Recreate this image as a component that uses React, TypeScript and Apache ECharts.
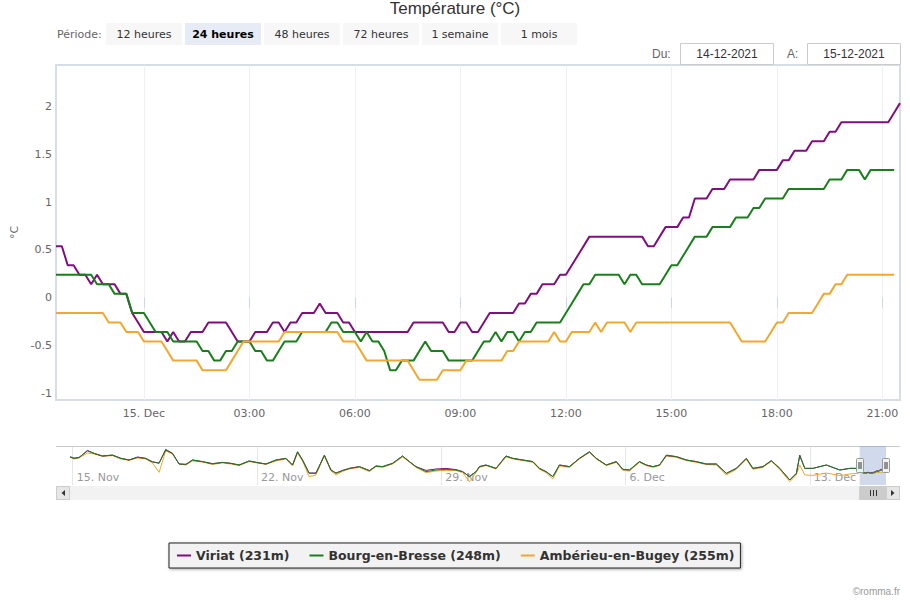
import React, { useEffect, useRef } from "react";
import * as echarts from "echarts";

// ---- Main window: 14-12-2021 21:30 -> 15-12-2021 21:30, 10-minute readings
const START_HOUR = -2.5; // hours relative to 15-12-2021 00:00
const STEP_HOURS = 1 / 6;

const viriat = [
  0.54, 0.54, 0.34, 0.34, 0.24, 0.24, 0.14, 0.24, 0.14, 0.14,
  0.14, 0.04, 0.04, -0.16, -0.26, -0.36, -0.36, -0.36, -0.36, -0.46,
  -0.36, -0.46, -0.46, -0.36, -0.36, -0.36, -0.26, -0.26, -0.26, -0.26,
  -0.36, -0.46, -0.46, -0.46, -0.36, -0.36, -0.36, -0.26, -0.26, -0.36,
  -0.26, -0.26, -0.16, -0.16, -0.16, -0.06, -0.16, -0.16, -0.16, -0.26,
  -0.26, -0.36, -0.36, -0.36, -0.36, -0.36, -0.36, -0.36, -0.36, -0.36,
  -0.36, -0.26, -0.26, -0.26, -0.26, -0.26, -0.26, -0.36, -0.36, -0.26,
  -0.26, -0.36, -0.36, -0.26, -0.16, -0.16, -0.16, -0.16, -0.16, -0.06,
  -0.06, 0.04, 0.04, 0.14, 0.14, 0.14, 0.24, 0.24, 0.34, 0.44,
  0.54, 0.64, 0.64, 0.64, 0.64, 0.64, 0.64, 0.64, 0.64, 0.64,
  0.64, 0.54, 0.54, 0.64, 0.74, 0.74, 0.74, 0.84, 0.84, 1.04,
  1.04, 1.04, 1.14, 1.14, 1.14, 1.24, 1.24, 1.24, 1.24, 1.24,
  1.34, 1.34, 1.34, 1.34, 1.44, 1.44, 1.54, 1.54, 1.54, 1.64,
  1.64, 1.64, 1.74, 1.74, 1.84, 1.84, 1.84, 1.84, 1.84, 1.84,
  1.84, 1.84, 1.84, 1.94, 2.04,
];

const bourg = [
  0.24, 0.24, 0.24, 0.24, 0.24, 0.24, 0.24, 0.14, 0.14, 0.14,
  0.04, 0.04, 0.04, -0.16, -0.16, -0.16, -0.26, -0.36, -0.36, -0.36,
  -0.46, -0.46, -0.46, -0.46, -0.46, -0.56, -0.56, -0.66, -0.66, -0.56,
  -0.56, -0.46, -0.46, -0.46, -0.56, -0.56, -0.66, -0.66, -0.56, -0.46,
  -0.46, -0.46, -0.36, -0.36, -0.36, -0.36, -0.36, -0.26, -0.26, -0.36,
  -0.36, -0.36, -0.46, -0.36, -0.46, -0.46, -0.56, -0.76, -0.76, -0.66,
  -0.66, -0.66, -0.56, -0.46, -0.56, -0.56, -0.56, -0.66, -0.66, -0.66,
  -0.66, -0.66, -0.56, -0.46, -0.46, -0.36, -0.46, -0.36, -0.36, -0.46,
  -0.36, -0.36, -0.26, -0.26, -0.26, -0.26, -0.26, -0.16, -0.06, 0.04,
  0.14, 0.14, 0.24, 0.24, 0.24, 0.24, 0.24, 0.14, 0.24, 0.24,
  0.14, 0.14, 0.14, 0.14, 0.24, 0.34, 0.34, 0.44, 0.54, 0.64,
  0.64, 0.64, 0.74, 0.74, 0.74, 0.74, 0.84, 0.84, 0.84, 0.94,
  0.94, 1.04, 1.04, 1.04, 1.04, 1.14, 1.14, 1.14, 1.14, 1.14,
  1.14, 1.14, 1.24, 1.24, 1.24, 1.34, 1.34, 1.34, 1.24, 1.34,
  1.34, 1.34, 1.34, 1.34,
];

const amberieu = [
  -0.16, -0.16, -0.16, -0.16, -0.16, -0.16, -0.16, -0.16, -0.16, -0.26,
  -0.26, -0.26, -0.36, -0.36, -0.36, -0.46, -0.46, -0.46, -0.46, -0.56,
  -0.66, -0.66, -0.66, -0.66, -0.66, -0.76, -0.76, -0.76, -0.76, -0.76,
  -0.66, -0.56, -0.46, -0.46, -0.46, -0.46, -0.46, -0.46, -0.46, -0.36,
  -0.36, -0.36, -0.36, -0.36, -0.36, -0.36, -0.36, -0.36, -0.36, -0.46,
  -0.46, -0.46, -0.56, -0.66, -0.66, -0.66, -0.66, -0.66, -0.66, -0.66,
  -0.66, -0.76, -0.86, -0.86, -0.86, -0.86, -0.76, -0.76, -0.76, -0.76,
  -0.66, -0.66, -0.66, -0.66, -0.66, -0.66, -0.66, -0.56, -0.56, -0.46,
  -0.46, -0.46, -0.46, -0.46, -0.46, -0.36, -0.46, -0.46, -0.36, -0.36,
  -0.36, -0.36, -0.26, -0.36, -0.26, -0.26, -0.26, -0.26, -0.36, -0.26,
  -0.26, -0.26, -0.26, -0.26, -0.26, -0.26, -0.26, -0.26, -0.26, -0.26,
  -0.26, -0.26, -0.26, -0.26, -0.26, -0.26, -0.36, -0.46, -0.46, -0.46,
  -0.46, -0.46, -0.36, -0.26, -0.26, -0.16, -0.16, -0.16, -0.16, -0.16,
  -0.06, 0.04, 0.04, 0.14, 0.14, 0.24, 0.24, 0.24, 0.24, 0.24,
  0.24, 0.24, 0.24, 0.24,
];

const xTickHours = [0, 3, 6, 9, 12, 15, 18, 21];
const yTicks = [-1, -0.5, 0, 0.5, 1, 1.5, 2];

// ---- Navigator: one month, days relative to 15-11-2021 00:00
const NAV_START_DAY = -2.5 / 24;
const WIN_START_DAY = 29 + 21.5 / 24;
const WIN_END_DAY = 30 + 21.5 / 24;

const navDays = [
  -0.10, 0.05, 0.24, 0.56, 0.81, 1.13, 1.51, 1.82, 2.14, 2.46,
  2.77, 3.03, 3.28, 3.53, 3.79, 4.04, 4.30, 4.55, 4.93, 5.31,
  5.69, 6.01, 6.32, 6.70, 7.02, 7.34, 7.72, 8.10, 8.35, 8.54,
  8.73, 8.98, 9.24, 9.56, 9.81, 10.00, 10.25, 10.51, 10.89, 11.27,
  11.52, 11.77, 12.15, 12.53, 12.79, 13.04, 13.42, 13.80, 14.18, 14.56,
  14.81, 15.07, 15.32, 15.45, 15.70, 16.08, 16.46, 16.72, 17.10, 17.48,
  17.73, 17.98, 18.24, 18.49, 18.87, 19.25, 19.63, 19.89, 20.27, 20.65,
  20.90, 21.15, 21.53, 21.79, 22.04, 22.29, 22.55, 22.93, 23.31, 23.69,
  24.07, 24.45, 24.83, 25.21, 25.59, 25.84, 26.22, 26.54, 26.86, 27.24,
  27.49, 27.62, 27.81, 28.12, 28.63, 29.14, 29.52, 29.85,
];

const navBourg = [
  7.67, 6.83, 7.33, 10.5, 9.33, 8.0, 8.5, 6.83, 6.0, 7.33,
  6.83, 5.17, 4.33, 11.33, 9.33, 4.0, 3.83, 6.0, 5.17, 4.0,
  4.83, 4.33, 3.5, 5.5, 4.67, 4.0, 6.0, 6.83, 3.5, 10.17,
  6.0, -0.67, -0.67, 8.5, 1.0, -0.67, 0.67, 1.83, 2.67, 0.67,
  3.0, 2.67, 4.33, 8.0, 5.17, 2.67, 0.17, 1.0, 1.33, 1.0,
  0.17, -2.33, 0.17, 2.67, 3.5, 1.83, 8.0, 6.83, 6.0, 5.17,
  1.83, 0.17, -2.33, 3.5, 2.67, 6.83, 10.17, 6.83, 3.5, 5.17,
  1.33, 1.0, 5.17, 3.5, 2.67, 3.5, 8.5, 7.67, 6.0, 5.17,
  4.0, 4.0, -0.67, 1.83, 6.83, 1.83, 2.67, 5.67, 1.83, -4.0,
  -0.67, 8.0, 1.83, 1.83, 3.5, 1.0, 1.83, 1.83,
];

const navViriat = [
  7.5, 6.9, 7.2, 10.8, 9.3, 8.0, 8.4, 6.9, 6.0, 7.5,
  6.8, 5.0, 4.5, 11.0, 9.3, 4.0, 3.8, 6.0, 5.2, 4.2,
  4.8, 4.3, 3.5, 5.5, 4.7, 4.0, 6.0, 6.8, 3.5, 10.0,
  6.0, -0.5, -0.5, 8.3, 1.0, -0.5, 0.8, 1.8, 2.7, 0.7,
  3.0, 2.7, 4.3, 8.0, 5.2, 2.7, 0.8, 1.5, 1.8, 1.2,
  0.2, -2.3, 0.2, 2.7, 3.5, 1.8, 8.0, 6.8, 6.0, 5.2,
  1.8, 0.2, -2.3, 3.5, 2.7, 6.8, 10.0, 6.8, 3.5, 5.2,
  1.3, 1.0, 5.2, 3.5, 2.7, 3.5, 8.2, 7.7, 6.0, 5.2,
  4.0, 4.0, -0.7, 1.8, 6.8, 1.8, 2.7, 5.7, 1.8, -4.0,
  -0.7, 8.5, 1.8, 1.8, 3.5, 1.0, 1.8, 1.8,
];

const navAmberieu = [
  7.3, 6.5, 7.0, 9.5, 9.0, 7.8, 8.2, 6.5, 5.8, 7.0,
  6.5, 4.5, -0.17, 10.5, 9.0, 4.0, 3.5, 5.5, 5.0, 3.8,
  4.5, 4.0, 3.2, 5.2, 4.5, 3.8, 5.5, 6.5, 3.0, 9.5,
  5.5, -2.3, -1.5, 8.0, 0.5, -1.5, 0.3, 1.5, 2.3, 0.2,
  2.7, 2.3, 4.0, 7.5, 5.0, 2.3, -0.3, 0.5, 0.8, 0.7,
  -0.3, -4.83, -0.3, 2.3, 3.2, 1.5, 7.5, 6.5, 5.7, 4.8,
  1.3, -0.3, -3.5, 3.0, 2.3, 6.5, 9.8, 6.5, 3.2, 4.8,
  0.8, 0.5, 4.8, 3.2, 2.3, 3.2, 8.0, 7.3, 5.7, 4.8,
  3.7, 3.5, -1.5, 1.3, 6.3, 1.3, 2.3, 5.3, 1.3, -4.83,
  -1.5, 3.5, -1.5, -1.7, -0.5, -1.8, -1.0, -0.6,
];

const navTickDays = [0, 7, 14, 21, 28];
const navTickLabels = ["15. Nov", "22. Nov", "29. Nov", "6. Dec", "13. Dec"];

const periods = ["12 heures", "24 heures", "48 heures", "72 heures", "1 semaine", "1 mois"];
const selectedPeriod = 1;
const dateFrom = "14-12-2021";
const dateTo = "15-12-2021";

const seriesNames = ["Viriat (231m)", "Bourg-en-Bresse (248m)", "Ambérieu-en-Bugey (255m)"];
const seriesColors = ["#7f0f7f", "#1a7f1a", "#f0a82e"];

const SANS = "DejaVu Sans, Verdana, sans-serif";
const ARIAL = "Liberation Sans, Arial, sans-serif";

function mainData(values: number[]) {
  return values.map((v, i) => [START_HOUR + i * STEP_HOURS, v]);
}
function navData(nav: number[], main: number[]) {
  const a = navDays.map((d, i) => [d, nav[i]]);
  const b = main.map((v, i) => [WIN_START_DAY + (i * STEP_HOURS) / 24, v]);
  return a.concat(b);
}

export default function App() {
  const ref = useRef<HTMLDivElement>(null);
  useEffect(() => {
    document.body.style.margin = "0";
    if (!ref.current) return;
    const chart = echarts.init(ref.current, undefined, { renderer: "svg" });
    const mains = [viriat, bourg, amberieu];
    const navs = [navViriat, navBourg, navAmberieu];
    const series: any[] = [];
    mains.forEach((vals, k) => {
      series.push({
        name: seriesNames[k],
        type: "line",
        xAxisIndex: 0,
        yAxisIndex: 0,
        data: mainData(vals),
        showSymbol: false,
        symbol: "none",
        lineStyle: { width: 2, color: seriesColors[k] },
        itemStyle: { color: seriesColors[k] },
        z: 3,
      });
    });
    // navigator: orange drawn first (underneath), then purple and green
    [2, 0, 1].forEach((k, order) => {
      const s: any = {
        name: seriesNames[k],
        type: "line",
        xAxisIndex: 1,
        yAxisIndex: 1,
        data: navData(navs[k], mains[k]),
        showSymbol: false,
        symbol: "none",
        lineStyle: { width: 1, color: seriesColors[k] },
        itemStyle: { color: seriesColors[k] },
        z: 2,
      };
      if (order === 0) {
        s.markArea = {
          silent: true,
          itemStyle: { color: "rgba(102,133,194,0.3)" },
          data: [[{ xAxis: WIN_START_DAY }, { xAxis: WIN_END_DAY }]],
        };
      }
      series.push(s);
    });

    chart.setOption({
      animation: false,
      title: {
        text: "Température (°C)",
        left: "center",
        top: 0,
        padding: 0,
        textStyle: { fontFamily: ARIAL, fontSize: 17, fontWeight: "normal", color: "#333" },
      },
      legend: {
        data: seriesNames,
        left: 169,
        top: 543,
        padding: [6, 6, 6, 8],
        itemGap: 20,
        itemWidth: 14,
        itemHeight: 2,
        icon: "rect",
        backgroundColor: "#f2f2f2",
        borderColor: "#222",
        borderWidth: 1,
        shadowColor: "rgba(0,0,0,0.35)",
        shadowBlur: 3,
        shadowOffsetX: 1,
        shadowOffsetY: 1,
        textStyle: { fontFamily: SANS, fontWeight: "bold", fontSize: 12.5, color: "#333" },
      },
      grid: [
        {
          left: 56,
          top: 65,
          width: 844,
          height: 335,
          show: true,
          borderColor: "#d5dde7",
          borderWidth: 2,
          backgroundColor: "#fff",
        },
        { left: 70, top: 446, width: 816, height: 39, show: false },
      ],
      xAxis: [
        {
          type: "value",
          gridIndex: 0,
          min: START_HOUR,
          max: START_HOUR + 24,
          axisLine: { show: false },
          axisTick: {
            show: true,
            length: 10,
            customValues: xTickHours,
            lineStyle: { color: "#ccd6eb" },
          },
          splitLine: { show: true, lineStyle: { color: "#edf0f4", width: 1 } },
          axisLabel: {
            customValues: xTickHours,
            margin: 8,
            color: "#666",
            fontFamily: SANS,
            fontSize: 11,
            formatter: (v: number) => (v === 0 ? "15. Dec" : (v < 10 ? "0" : "") + v + ":00"),
          },
        },
        {
          type: "value",
          gridIndex: 1,
          min: NAV_START_DAY,
          max: WIN_END_DAY,
          axisLine: { show: false },
          axisTick: { show: false, customValues: navTickDays },
          splitLine: { show: true, lineStyle: { color: "#e6e6e6", width: 1 } },
          axisLabel: {
            customValues: navTickDays,
            inside: true,
            margin: 2,
            align: "left",
            padding: [0, 0, 0, 4],
            color: "#999",
            fontFamily: SANS,
            fontSize: 11,
            formatter: (v: number) => navTickLabels[navTickDays.indexOf(Math.round(v))] || "",
          },
        },
      ],
      yAxis: [
        {
          type: "value",
          gridIndex: 0,
          min: -1.073,
          max: 2.44,
          name: "°C",
          nameLocation: "middle",
          nameGap: 36,
          nameRotate: 90,
          nameTextStyle: { color: "#666", fontFamily: SANS, fontSize: 11 },
          axisLine: { show: false },
          axisTick: { show: false, customValues: yTicks },
          splitLine: { show: false },
          axisLabel: {
            customValues: yTicks,
            margin: 4,
            color: "#666",
            fontFamily: SANS,
            fontSize: 11,
            formatter: (v: number) => String(v),
          },
        },
        {
          type: "value",
          gridIndex: 1,
          min: -6.5,
          max: 13,
          show: false,
        },
      ],
      series,
    });

    const p0 = chart.convertToPixel({ xAxisIndex: 1 } as any, WIN_START_DAY) as number;
    const p1 = chart.convertToPixel({ xAxisIndex: 1 } as any, WIN_END_DAY) as number;

    const g: any[] = [];
    // period selector
    g.push({
      type: "text",
      x: 57,
      y: 34,
      style: { text: "Période:", fill: "#666", fontFamily: SANS, fontSize: 11, verticalAlign: "middle" },
    });
    periods.forEach((p, i) => {
      const x = 106 + i * 79;
      const sel = i === selectedPeriod;
      g.push({
        type: "rect",
        shape: { x, y: 23, width: 76, height: 22 },
        style: { fill: sel ? "#e6ebf5" : "#f7f7f7", stroke: null },
      });
      g.push({
        type: "text",
        x: x + 38,
        y: 34,
        style: {
          text: p,
          fill: sel ? "#000" : "#333",
          fontFamily: SANS,
          fontSize: 11,
          fontWeight: sel ? "bold" : "normal",
          align: "center",
          verticalAlign: "middle",
        },
      });
    });
    // date range inputs
    const dateBox = (label: string, lx: number, bx: number, value: string) => {
      g.push({
        type: "text",
        x: lx,
        y: 54,
        style: { text: label, fill: "#666", fontFamily: ARIAL, fontSize: 12, verticalAlign: "middle" },
      });
      g.push({
        type: "rect",
        shape: { x: bx + 0.5, y: 43.5, width: 93, height: 21 },
        style: { fill: "#fff", stroke: "#cccccc", lineWidth: 1 },
      });
      g.push({
        type: "text",
        x: bx + 47,
        y: 54,
        style: { text: value, fill: "#333", fontFamily: ARIAL, fontSize: 12, align: "center", verticalAlign: "middle" },
      });
    };
    dateBox("Du:", 652, 680, dateFrom);
    dateBox("A:", 787, 807, dateTo);

    // navigator outline
    g.push({
      type: "line",
      shape: { x1: 56, y1: 446.5, x2: 900, y2: 446.5 },
      style: { stroke: "#cccccc", lineWidth: 1 },
    });
    // scrollbar
    g.push({
      type: "rect",
      shape: { x: 56, y: 486, width: 844, height: 14 },
      style: { fill: "#f2f2f2", stroke: null },
    });
    g.push({
      type: "rect",
      shape: { x: 56.5, y: 486.5, width: 13, height: 13 },
      style: { fill: "#e6e6e6", stroke: "#cccccc", lineWidth: 1 },
    });
    g.push({
      type: "polygon",
      shape: { points: [[65, 490], [65, 496], [61.5, 493]] },
      style: { fill: "#333" },
    });
    g.push({
      type: "rect",
      shape: { x: p1 + 0.5, y: 486.5, width: 900 - p1 - 1, height: 13 },
      style: { fill: "#e6e6e6", stroke: "#cccccc", lineWidth: 1 },
    });
    g.push({
      type: "polygon",
      shape: { points: [[p1 + 5, 490], [p1 + 5, 496], [p1 + 8.5, 493]] },
      style: { fill: "#333" },
    });
    g.push({
      type: "rect",
      shape: { x: p0, y: 486.5, width: p1 - p0, height: 13 },
      style: { fill: "#cccccc", stroke: "#cccccc", lineWidth: 1 },
    });
    const cx = Math.round((p0 + p1) / 2) + 0.5;
    [-3, 0, 3].forEach((dx) => {
      g.push({
        type: "line",
        shape: { x1: cx + dx, y1: 490, x2: cx + dx, y2: 496 },
        style: { stroke: "#333", lineWidth: 1 },
      });
    });
    // navigator handles
    [p0, p1].forEach((px) => {
      const hx = Math.round(px) - 3.5;
      g.push({
        type: "rect",
        z: 10,
        shape: { x: hx, y: 458.5, width: 7, height: 14, r: 1 },
        style: { fill: "#f2f2f2", stroke: "#999", lineWidth: 1 },
      });
      [2.5, 4.5].forEach((dx) => {
        g.push({
          type: "line",
          z: 11,
          shape: { x1: hx + dx, y1: 462, x2: hx + dx, y2: 469 },
          style: { stroke: "#333", lineWidth: 1 },
        });
      });
    });
    // credit
    g.push({
      type: "text",
      x: 900,
      y: 591,
      style: { text: "©romma.fr", fill: "#999", fontFamily: ARIAL, fontSize: 10, align: "right", verticalAlign: "middle" },
    });

    chart.setOption({ graphic: g });

    return () => chart.dispose();
  }, []);
  return <div ref={ref} style={{ width: 910, height: 600 }} />;
}
